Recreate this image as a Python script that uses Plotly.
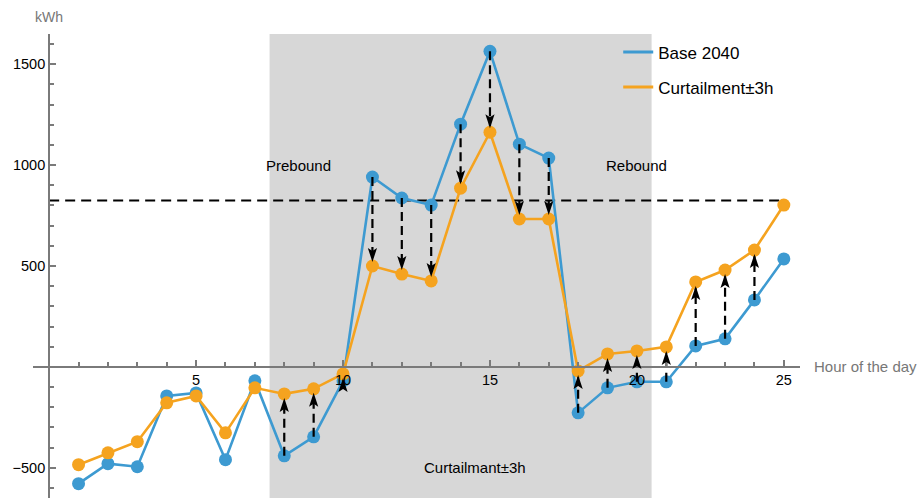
import plotly.graph_objects as go

# Hourly load profile, kWh
hours = list(range(1, 26))
base_2040 = [-579, -480, -495, -144, -129, -460, -69, -441, -347, -69,
             941, 837, 802, 1203, 1564, 1104, 1035, -228, -104, -74,
             -74, 104, 139, 332, 535]
curtailment = [-485, -426, -371, -178, -144, -327, -104, -134, -109, -35,
               500, 460, 426, 886, 1163, 733, 733, -20, 64, 79,
               99, 421, 480, 579, 802]

# Hours where load is shifted (arrows from base to curtailed profile)
shift_hours = list(range(8, 25))
threshold = 825
window = (7.5, 20.5)

x_tick_vals = [5, 10, 15, 20, 25]
y_tick_vals = [-500, 500, 1000, 1500]

BLUE = "#3D9AD1"
ORANGE = "#F5A31F"
AXIS = "#7a7a7a"
FONT = "Liberation Sans, Arial, sans-serif"

x_range = [-0.55, 25.55]
y_range = [-650, 1650]

fig = go.Figure()

fig.add_trace(go.Scatter(
    x=hours, y=base_2040, mode="lines+markers", name="Base 2040",
    line=dict(color=BLUE, width=2.6), marker=dict(color=BLUE, size=13),
    showlegend=False, cliponaxis=False))

# dashed shift lines, base -> curtailed
dx, dy = [], []
for h in shift_hours:
    i = hours.index(h)
    dx += [h, h, None]
    dy += [base_2040[i], curtailment[i], None]
fig.add_trace(go.Scatter(
    x=dx, y=dy, mode="lines", line=dict(color="black", width=2.2, dash="9px,5px"),
    showlegend=False, hoverinfo="skip"))

fig.add_trace(go.Scatter(
    x=hours, y=curtailment, mode="lines+markers", name="Curtailment±3h",
    line=dict(color=ORANGE, width=2.6), marker=dict(color=ORANGE, size=13),
    showlegend=False, cliponaxis=False))

# legend entries (line only)
fig.add_trace(go.Scatter(x=[None], y=[None], mode="lines", name="Base 2040",
                         line=dict(color=BLUE, width=3), legendgroup="a"))
fig.add_trace(go.Scatter(x=[None], y=[None], mode="lines", name="Curtailment±3h",
                         line=dict(color=ORANGE, width=3), legendgroup="b"))

shapes = [
    dict(type="rect", xref="x", yref="paper", x0=window[0], x1=window[1], y0=0, y1=1,
         fillcolor="#d7d7d7", line=dict(width=0), layer="below"),
    dict(type="line", xref="x", yref="y", x0=0, x1=25, y0=threshold, y1=threshold,
         line=dict(color="black", width=2, dash="10px,6px"), layer="below"),
]

# arrowheads at the curtailed value, fixed pixel size
for h in shift_hours:
    i = hours.index(h)
    s = 1 if base_2040[i] > curtailment[i] else -1
    path = (f"M0,{4*s} L-4.6,{18*s} L0,{15*s} L4.6,{18*s} Z")
    shapes.append(dict(type="path", xref="x", yref="y",
                       xsizemode="pixel", ysizemode="pixel",
                       xanchor=h, yanchor=curtailment[i], path=path,
                       fillcolor="black", line=dict(width=0), layer="above"))

annotations = [
    dict(text="kWh", xref="x", yref="paper", x=0, y=1.037, yanchor="middle",
         showarrow=False, font=dict(size=14, color="#777777", family=FONT)),
    dict(text="Hour of the day", xref="paper", yref="y", x=1.0156, y=0,
         xanchor="left", yanchor="middle", showarrow=False,
         font=dict(size=15, color="#777777", family=FONT)),
    dict(text="Prebound", xref="x", yref="y", x=8.5, y=1000, showarrow=False,
         font=dict(size=15, color="black", family=FONT)),
    dict(text="Rebound", xref="x", yref="y", x=20, y=1000, showarrow=False,
         font=dict(size=15, color="black", family=FONT)),
    dict(text="Curtailmant±3h", xref="x", yref="y", x=14.5, y=-500, showarrow=False,
         font=dict(size=15, color="black", family=FONT)),
]

x_pos = (0 - y_range[0]) / (y_range[1] - y_range[0])
y_pos = (0 - x_range[0]) / (x_range[1] - x_range[0])

fig.update_layout(
    width=919, height=500,
    margin=dict(l=33, r=119, t=34, b=2),
    paper_bgcolor="white", plot_bgcolor="white",
    font=dict(family=FONT, size=14.5, color="black"),
    shapes=shapes, annotations=annotations,
    xaxis=dict(range=x_range, anchor="free", position=x_pos,
               showline=True, linecolor=AXIS, linewidth=2,
               showgrid=False, zeroline=False,
               tickmode="array", tickvals=x_tick_vals,
               ticks="inside", ticklen=6, tickwidth=1.5, tickcolor=AXIS,
               minor=dict(dtick=1, ticks="inside", ticklen=3.5, tickwidth=1.5,
                          tickcolor=AXIS, showgrid=False),
               tickfont=dict(size=14.5, color="black")),
    yaxis=dict(range=y_range, anchor="free", position=y_pos,
               showline=True, linecolor=AXIS, linewidth=2,
               showgrid=False, zeroline=False,
               tickmode="array", tickvals=y_tick_vals,
               ticks="inside", ticklen=6, tickwidth=1.5, tickcolor=AXIS,
               minor=dict(dtick=100, ticks="inside", ticklen=3.5, tickwidth=1.5,
                          tickcolor=AXIS, showgrid=False),
               tickfont=dict(size=14.5, color="black")),
    legend=dict(x=0.763, y=0.999, xanchor="left", yanchor="top",
                bgcolor="rgba(0,0,0,0)", font=dict(size=17, family=FONT),
                traceorder="grouped", tracegroupgap=10, itemwidth=30),
)

fig.write_html("out.html")
